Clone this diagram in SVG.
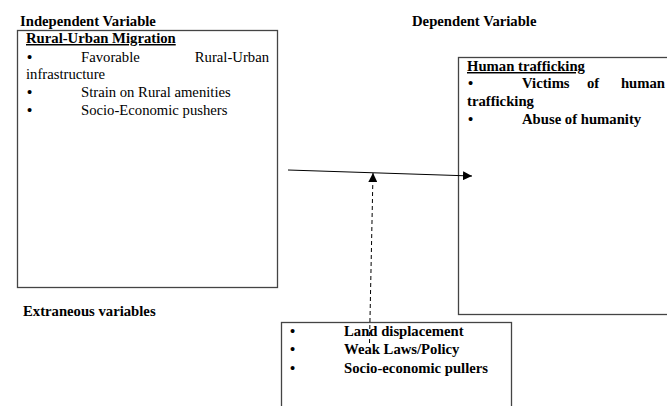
<svg xmlns="http://www.w3.org/2000/svg" width="667" height="406" viewBox="0 0 667 406">
<defs>
<style>
text{font-family:"Liberation Serif","Times New Roman",serif;font-size:14.7px;fill:#000}
.b{font-weight:bold}
.u{text-decoration:underline}
.bl{font-weight:bold}
.box{fill:#fff;stroke:#444;stroke-width:1.3}
.ln{stroke:#000;stroke-width:1;fill:none}
</style>
<marker id="ah" viewBox="0 0 10 10" refX="10" refY="5" markerWidth="9" markerHeight="9" markerUnits="userSpaceOnUse" orient="auto">
<path d="M0,0 L10,5 L0,10 z" fill="#000"/>
</marker>
</defs>
<rect width="667" height="406" fill="#fff"/>
<text class="b" x="20" y="26">Independent Variable</text>
<text class="b" x="412" y="26">Dependent Variable</text>
<text class="b" x="23" y="316">Extraneous variables</text>
<g id="independent">
<rect class="box" x="17.5" y="30.5" width="260" height="257"/>
<text class="b u" x="26" y="43">Rural-Urban Migration</text>
<text class="bl" x="27" y="62">•</text>
<text x="81" y="62">Favorable</text>
<text x="269" y="62" text-anchor="end">Rural-Urban</text>
<text x="26" y="79">infrastructure</text>
<text class="bl" x="27" y="97">•</text>
<text x="81" y="97">Strain on Rural amenities</text>
<text class="bl" x="27" y="115">•</text>
<text x="81" y="115">Socio-Economic pushers</text>
</g>
<g id="dependent">
<rect class="box" x="458.5" y="57.5" width="215" height="257"/>
<text class="b u" x="467" y="71">Human trafficking</text>
<text class="bl" x="468" y="88">•</text>
<text class="b" x="522" y="88">Victims</text>
<text class="b" x="587" y="88">of</text>
<text class="b" x="665" y="88" text-anchor="end">human</text>
<text class="b" x="467" y="106">trafficking</text>
<text class="bl" x="468" y="124">•</text>
<text class="b" x="522" y="124">Abuse of humanity</text>
</g>
<g id="extraneous">
<rect class="box" x="281.5" y="322.5" width="230" height="100"/>
<text class="bl" x="290" y="336">•</text>
<text class="b" x="344" y="336">Land displacement</text>
<text class="bl" x="290" y="354">•</text>
<text class="b" x="344" y="354">Weak Laws/Policy</text>
<text class="bl" x="290" y="373">•</text>
<text class="b" x="344" y="373">Socio-economic pullers</text>
</g>
<g id="connectors">
<line class="ln" x1="288" y1="170" x2="472" y2="176" marker-end="url(#ah)"/>
<line class="ln" x1="369.5" y1="343" x2="373" y2="173" stroke-dasharray="4,3" marker-end="url(#ah)"/>
</g>
</svg>
